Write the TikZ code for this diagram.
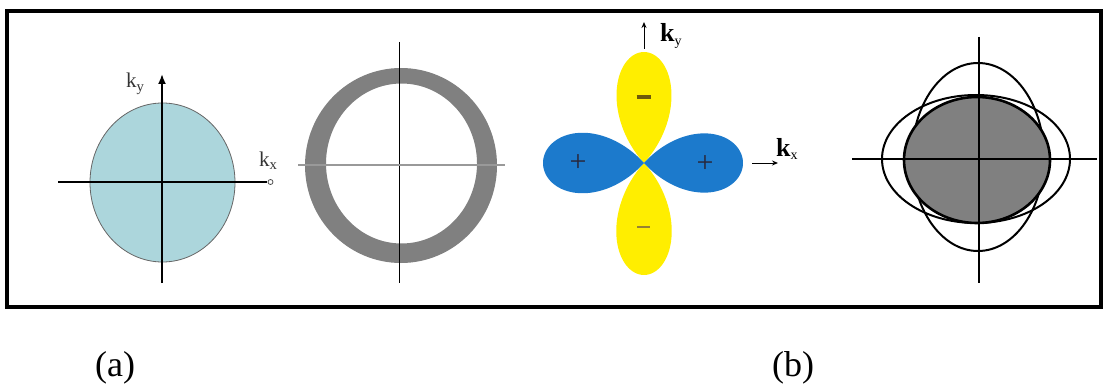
\documentclass[tikz,border=0pt]{standalone}
\usepackage{fontspec}
\setmainfont{Liberation Serif}
\usetikzlibrary{arrows.meta}
\definecolor{lblue}{RGB}{172,214,220}
\definecolor{lobeyellow}{RGB}{255,238,0}
\definecolor{lobeblue}{RGB}{28,122,204}
\definecolor{ringgray}{RGB}{128,128,128}
\definecolor{minustop}{RGB}{110,90,10}
\definecolor{minusbot}{RGB}{150,130,50}
\definecolor{plusc}{RGB}{40,40,60}
\tikzset{
  frame/.style={line width=3.5pt,draw=black},
  axisA/.style={line width=1.8pt,draw=black},
  axisB/.style={line width=2.4pt,draw=black},
  klabel/.style={inner sep=0pt,anchor=base west,font=\fontsize{21}{24}\selectfont,text=black!80},
  kbold/.style={inner sep=0pt,anchor=base west,font=\fontsize{26}{30}\selectfont\bfseries},
  sign/.style={inner sep=0pt,font=\fontsize{30}{34}\selectfont,text=plusc},
  caption/.style={inner sep=0pt,anchor=base west,font=\fontsize{36}{40}\selectfont},
  karrow/.style={line width=1pt,-{Stealth[length=6pt,width=5pt]}}
}
\begin{document}
\begin{tikzpicture}[x=1pt,y=-1pt]
\useasboundingbox (0,0) rectangle (1107,385);
% frame
\draw[frame] (7,11) rectangle (1101,307);

% ---------- panel 1 ----------
\filldraw[fill=lblue,draw=black!60,line width=0.8pt] (162.5,182.5) ellipse [x radius=72.5, y radius=79.5];
\coordinate (p1L) at (58,182);
\coordinate (p1R) at (267,182);
\coordinate (p1B) at (162,283);
\coordinate (p1T) at (162,74);
\draw[axisA] (p1L) -- (p1R);
\draw[axisA,-{Latex[length=10pt,width=8pt]}] (p1B) -- (p1T);
\draw[black!70,line width=0.8pt] (270.5,182) circle (2.5);
\node[klabel] (ky1) at (126,88) {k\textsubscript{y}};
\node[klabel] (kx1) at (259,166) {k\textsubscript{x}};

% ---------- panel 2 ----------
\fill[ringgray,even odd rule] (401,165.5) ellipse [x radius=96, y radius=97.5]
      (401.5,163.5) ellipse [x radius=75.5, y radius=80];
\coordinate (p2T) at (399,42);
\coordinate (p2B) at (399,283);
\coordinate (p2L) at (298,165);
\coordinate (p2R) at (505,165);
\draw[black,line width=0.9pt] (p2T) -- (p2B);
\draw[black!40,line width=2.4pt] (p2L) -- (p2R);

% ---------- panel 3 ----------
\fill[lobeyellow] plot[domain=-45:45,samples=90,variable=\t]
   ({644+0.91*111*cos(2*\t)*sin(\t)},{163-111*cos(2*\t)*cos(\t)}) -- cycle;
\fill[lobeyellow] plot[domain=-45:45,samples=90,variable=\t]
   ({644+0.91*112*cos(2*\t)*sin(\t)},{163+112*cos(2*\t)*cos(\t)}) -- cycle;
\fill[lobeblue] plot[domain=-45:45,samples=90,variable=\t]
   ({644-101*cos(2*\t)*cos(\t)},{163+1.1*101*cos(2*\t)*sin(\t)}) -- cycle;
\fill[lobeblue] plot[domain=-45:45,samples=90,variable=\t]
   ({644+99*cos(2*\t)*cos(\t)},{163+1.1*99*cos(2*\t)*sin(\t)}) -- cycle;
\node[inner sep=0pt] (mtop) at (643.5,97) {\textcolor{minustop}{\rule{14pt}{3.2pt}}};
\node[inner sep=0pt] (mbot) at (643.5,227) {\textcolor{minusbot}{\rule{13pt}{2pt}}};
\node[sign] (pl) at (578,163) {+};
\node[sign] (pr) at (705,164) {+};
\coordinate (kyS) at (644,49);
\coordinate (kyE) at (644,22);
\draw[karrow] (kyS) -- (kyE);
\node[kbold] (ky3) at (660,42) {k\textsubscript{\fontsize{14}{16}\selectfont\mdseries y}};
\coordinate (kxS) at (752,163);
\coordinate (kxE) at (778,163);
\draw[karrow] (kxS) -- (kxE);
\node[kbold] (kx3) at (776,156) {k\textsubscript{\fontsize{14}{16}\selectfont\mdseries x}};

% ---------- panel 4 ----------
\draw[black,line width=2pt] (978,157) ellipse [x radius=66, y radius=94];
\draw[black,line width=2pt] (976,159) ellipse [x radius=94, y radius=64];
\filldraw[fill=ringgray,draw=black,line width=2.6pt] (977,160) ellipse [x radius=73, y radius=63];
\coordinate (p4T) at (979,37);
\coordinate (p4B) at (979,283);
\coordinate (p4L) at (852,159);
\coordinate (p4R) at (1097,159);
\draw[axisB] (p4T) -- (p4B);
\draw[axisB] (p4L) -- (p4R);

% captions
\node[caption] (capa) at (95,376) {(a)};
\node[caption] (capb) at (772,376) {(b)};
\end{tikzpicture}
\end{document}
